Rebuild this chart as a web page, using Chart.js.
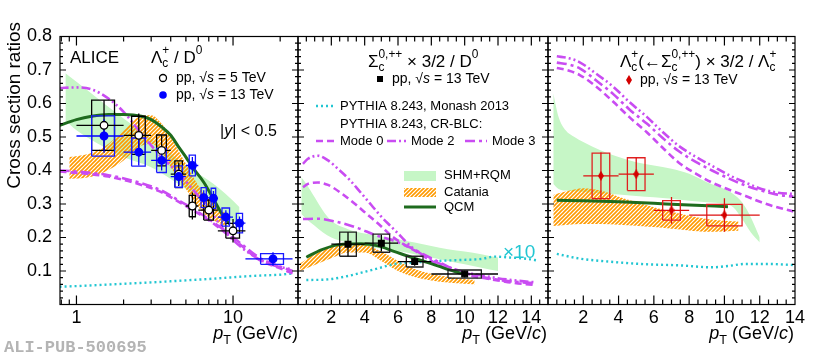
<!DOCTYPE html>
<html>
<head>
<meta charset="utf-8">
<script src="https://cdn.jsdelivr.net/npm/chart.js@4.4.1/dist/chart.umd.min.js"></script>
<style>
  html, body { margin: 0; padding: 0; background: #fff; }
  #wrap { position: relative; width: 830px; height: 359px; overflow: hidden; }
  #wrap canvas { position: absolute; left: 0; top: 0; }
  #tag { position: absolute; left: 4px; top: 338px; line-height: 17px;
         font: bold 17px "Liberation Mono", "DejaVu Sans Mono", monospace; color: #b4b4b4; }
</style>
</head>
<body>
<div id="wrap">
  <canvas id="cLeft" width="830" height="359"></canvas>
  <canvas id="cMid" width="830" height="359"></canvas>
  <canvas id="cRight" width="830" height="359"></canvas>
  <div id="tag">ALI-PUB-500695</div>
</div>
<script>
const FONT = '"Liberation Sans", Arial, Helvetica, sans-serif';

// ---- axes ----
const yLabelTicks = [0.1, 0.2, 0.3, 0.4, 0.5, 0.6, 0.7, 0.8];
const logTicks = [1, 10];
const logMinor = [0.8, 0.9, 2, 3, 4, 5, 6, 7, 8, 9, 20];
const linTicks = [2, 4, 6, 8, 10, 12, 14];

// ---- left panel: Lambda_c+ / D0 ----
const lcPt5 = [1.5, 2.5, 3.5, 4.5, 5.5, 7, 10];
const lcLo5 = [1, 2, 3, 4, 5, 6, 8];
const lcHi5 = [2, 3, 4, 5, 6, 8, 12];
const lcVal5 = [0.535, 0.505, 0.46, 0.389, 0.294, 0.282, 0.22];
const lcStat5 = [0.075, 0.065, 0.045, 0.035, 0.04, 0.03, 0.035];
const lcSyst5 = [0.075, 0.057, 0.046, 0.04, 0.032, 0.03, 0.022];

const lcPt13 = [1.5, 2.5, 3.5, 4.5, 5.5, 6.5, 7.5, 9, 11, 18];
const lcLo13 = [1, 2, 3, 4, 5, 6, 7, 8, 10, 12];
const lcHi13 = [2, 3, 4, 5, 6, 7, 8, 10, 12, 24];
const lcVal13 = [0.503, 0.455, 0.43, 0.382, 0.415, 0.319, 0.317, 0.261, 0.243, 0.136];
const lcStat13 = [0.05, 0.04, 0.03, 0.025, 0.025, 0.022, 0.022, 0.02, 0.02, 0.02];
const lcSyst13 = [0.06, 0.042, 0.036, 0.032, 0.031, 0.03, 0.03, 0.027, 0.029, 0.016];

const shmLcPt = [0.85, 1, 1.5, 2, 3, 4, 5, 6, 7, 8, 10, 11];
const shmLcHi = [0.69, 0.665, 0.6, 0.555, 0.495, 0.45, 0.415, 0.39, 0.37, 0.35, 0.31, 0.29];
const shmLcLo = [0.55, 0.52, 0.47, 0.44, 0.41, 0.375, 0.345, 0.32, 0.3, 0.28, 0.245, 0.23];

const catLcPt = [0.9, 1.2, 1.5, 2, 2.5, 3, 3.5, 4, 5, 6, 7, 8, 9];
const catLcHi = [0.44, 0.45, 0.47, 0.52, 0.56, 0.565, 0.54, 0.5, 0.42, 0.355, 0.315, 0.29, 0.27];
const catLcLo = [0.375, 0.38, 0.395, 0.43, 0.47, 0.48, 0.455, 0.41, 0.345, 0.29, 0.26, 0.245, 0.235];

const qcmLcPt = [0.78, 1, 1.25, 1.6, 2, 2.6, 3, 3.5, 4, 4.5, 5, 5.5, 6.5, 7.5, 8.5, 9.5];
const qcmLcVal = [0.535, 0.552, 0.562, 0.567, 0.567, 0.562, 0.552, 0.53, 0.505, 0.47, 0.44, 0.41, 0.365, 0.315, 0.27, 0.24];

const m2LcPt = [0.78, 1, 1.25, 1.6, 2, 2.5, 3, 3.5, 4.3, 5.5, 7, 9, 11.5, 14.7, 18.8, 24];
const m2LcVal = [0.646, 0.648, 0.642, 0.615, 0.575, 0.52, 0.475, 0.44, 0.4, 0.345, 0.285, 0.215, 0.168, 0.135, 0.115, 0.105];
const m0LcPt = [0.78, 1, 1.6, 2.6, 3.5, 4.3, 5.5, 7, 9, 11.5, 14.7, 18.8, 24];
const m0LcVal = [0.397, 0.393, 0.382, 0.357, 0.335, 0.312, 0.282, 0.252, 0.213, 0.173, 0.133, 0.113, 0.093];
const m3LcVal = [0.4, 0.397, 0.386, 0.362, 0.34, 0.316, 0.287, 0.255, 0.218, 0.178, 0.14, 0.118, 0.1];

const pyLcPt = [0.78, 1, 2, 3, 5, 8, 12, 16, 20, 24];
const pyLcVal = [0.053, 0.055, 0.062, 0.066, 0.072, 0.078, 0.084, 0.087, 0.089, 0.093];

// ---- middle panel: Sigma_c x 3/2 / D0 ----
const scPt = [3, 5, 7, 10];
const scLo = [2, 4, 6, 8];
const scHi = [4, 6, 8, 12];
const scVal = [0.18, 0.183, 0.128, 0.091];
const scStat = [0.036, 0.025, 0.012, 0.01];
const scSyst = [0.036, 0.027, 0.016, 0.012];

const shmScPt = [0.2, 0.5, 1, 1.5, 2, 3, 4, 5, 6, 7, 8, 9, 10, 11, 12];
const shmScHi = [0.38, 0.36, 0.32, 0.28, 0.25, 0.225, 0.212, 0.203, 0.195, 0.185, 0.175, 0.165, 0.158, 0.15, 0.14];
const shmScLo = [0.27, 0.255, 0.235, 0.215, 0.2, 0.185, 0.175, 0.167, 0.16, 0.15, 0.14, 0.13, 0.12, 0.11, 0.1];

const catScPt = [0.1, 1, 2, 3, 4, 5, 6, 7, 8, 9, 10, 10.6];
const catScHi = [0.122, 0.15, 0.172, 0.182, 0.178, 0.158, 0.13, 0.106, 0.092, 0.083, 0.076, 0.073];
const catScLo = [0.1, 0.118, 0.138, 0.155, 0.155, 0.13, 0.1, 0.082, 0.072, 0.066, 0.062, 0.06];

const qcmScPt = [0.5, 1.4, 2.4, 3.8, 4.8, 5.8, 6.8, 7.8, 8.8, 9.8];
const qcmScVal = [0.141, 0.163, 0.178, 0.181, 0.175, 0.158, 0.141, 0.125, 0.108, 0.093];

const m2ScPt = [0.3, 0.6, 1.2, 1.8, 2.4, 3.1, 3.8, 4.4, 5, 5.6, 6.2, 6.8, 7.6, 8.6, 10, 11.8, 13, 14.3];
const m2ScVal = [0.42, 0.435, 0.444, 0.43, 0.405, 0.372, 0.332, 0.297, 0.262, 0.232, 0.202, 0.172, 0.145, 0.12, 0.097, 0.08, 0.072, 0.066];
const m0ScPt = [0.3, 0.6, 1.2, 1.8, 2.6, 3.5, 4.2, 5, 5.6, 6.4, 7.2, 8, 8.8, 10, 11, 12, 13, 14.3];
const m0ScVal = [0.35, 0.36, 0.364, 0.357, 0.332, 0.297, 0.267, 0.233, 0.205, 0.178, 0.155, 0.13, 0.11, 0.09, 0.08, 0.072, 0.064, 0.058];
const m3ScPt = [0.3, 1.2, 2.2, 3.6, 4.6, 5.6, 6.6, 7.6, 8.6, 9.6, 10.8, 11.8, 13, 14.3];
const m3ScVal = [0.255, 0.256, 0.248, 0.228, 0.208, 0.193, 0.173, 0.148, 0.123, 0.1, 0.085, 0.075, 0.068, 0.063];

const pyScPt = [0.5, 1.8, 2.8, 3.8, 4.8, 5.8, 6.8, 7.8, 8.8, 9.8, 11, 11.8, 12.8, 13.8, 14.4];
const pyScVal = [0.073, 0.075, 0.083, 0.095, 0.108, 0.121, 0.125, 0.128, 0.131, 0.133, 0.136, 0.143, 0.14, 0.136, 0.131];

// ---- right panel: Lambda_c(<-Sigma_c) x 3/2 / Lambda_c ----
const frPt = [3, 5, 7, 10];
const frLo = [2, 4, 6, 8];
const frHi = [4, 6, 8, 12];
const frVal = [0.384, 0.389, 0.281, 0.267];
const frStat = [0.07, 0.049, 0.04, 0.05];
const frSyst = [0.068, 0.049, 0.029, 0.032];

const shmFrPt = [0.3, 0.6, 1, 1.5, 2, 3, 4, 5, 6, 7, 8, 9, 10, 10.5, 11, 11.5, 12];
const shmFrHi = [0.63, 0.56, 0.52, 0.5, 0.485, 0.46, 0.44, 0.425, 0.415, 0.405, 0.39, 0.365, 0.345, 0.33, 0.305, 0.26, 0.2];
const shmFrLo = [0.36, 0.345, 0.34, 0.338, 0.336, 0.332, 0.328, 0.324, 0.32, 0.316, 0.31, 0.305, 0.3, 0.29, 0.255, 0.215, 0.185];

const catFrPt = [0.3, 1, 2, 3, 4, 5, 6, 7, 8, 9, 10, 10.8];
const catFrHi = [0.327, 0.337, 0.347, 0.34, 0.322, 0.306, 0.29, 0.277, 0.265, 0.255, 0.25, 0.248];
const catFrLo = [0.234, 0.237, 0.24, 0.24, 0.238, 0.235, 0.231, 0.226, 0.221, 0.217, 0.218, 0.22];

const qcmFrPt = [0.5, 2, 4, 6, 8, 10.2];
const qcmFrVal = [0.311, 0.31, 0.307, 0.302, 0.297, 0.292];

const mFrPt = [0.5, 1.2, 1.8, 2.7, 3.7, 4.6, 5.6, 6.5, 7.4, 8.4, 9.3, 10.3, 11.2, 12.1, 13, 13.9];
const m2FrVal = [0.741, 0.735, 0.723, 0.69, 0.65, 0.605, 0.56, 0.515, 0.474, 0.44, 0.414, 0.385, 0.364, 0.345, 0.334, 0.33];
const m3FrVal = [0.722, 0.716, 0.705, 0.67, 0.628, 0.583, 0.54, 0.497, 0.458, 0.425, 0.4, 0.375, 0.355, 0.34, 0.328, 0.322];
const m0FrVal = [0.706, 0.698, 0.685, 0.652, 0.605, 0.56, 0.514, 0.468, 0.424, 0.39, 0.364, 0.342, 0.324, 0.305, 0.29, 0.278];

const pyFrPt = [0.5, 1.8, 3.7, 5.6, 7.4, 9.3, 10.2, 11.2, 12.5, 13.9];
const pyFrVal = [0.151, 0.137, 0.127, 0.12, 0.117, 0.111, 0.115, 0.121, 0.121, 0.118];

// ---- styles ----
const GREEN_FILL = '#c6f6c6';
const QCM_COL = '#1e6b1e';
const MAG = '#c94cf2';
const CYAN = '#22c6d2';
const ORANGE = '#ff9a00';
const DASH0 = [7, 4];
const DASH2 = [9, 3, 2, 3, 2, 3];
const DASH3 = [10, 4, 3, 4];
const DOT = [2, 3];

Chart.defaults.font.family = FONT;
Chart.defaults.color = '#000';

function steps(a, b, d) {
  const out = [];
  for (let v = a; v <= b + 1e-9; v += d) out.push(+v.toFixed(4));
  return out;
}

function hatch(color) {
  const c = document.createElement('canvas');
  c.width = 4; c.height = 4;
  const g = c.getContext('2d');
  g.strokeStyle = color;
  g.lineWidth = 1.6;
  g.beginPath();
  g.moveTo(-1, 5); g.lineTo(5, -1);
  g.moveTo(-1, 1); g.lineTo(1, -1);
  g.moveTo(3, 5); g.lineTo(5, 3);
  g.stroke();
  return g.createPattern(c, 'repeat');
}

function thinDiamond(color, w, h) {
  const c = document.createElement('canvas');
  c.width = w; c.height = h;
  const g = c.getContext('2d');
  g.fillStyle = color;
  g.beginPath();
  g.moveTo(w / 2, 0); g.lineTo(w, h / 2); g.lineTo(w / 2, h); g.lineTo(0, h / 2);
  g.closePath();
  g.fill();
  return c;
}

const ORANGE_HATCH = hatch(ORANGE);
const RED_DIAMOND = thinDiamond('#d40000', 6, 10);

const pts = (xs, ys) => xs.map((x, i) => ({ x, y: ys[i] }));

function bandSets(xs, hi, lo, fill, order) {
  return [
    { data: pts(xs, hi), fill: '+1', backgroundColor: fill, borderColor: 'rgba(0,0,0,0)',
      borderWidth: 0, pointRadius: 0, order, cubicInterpolationMode: 'monotone' },
    { data: pts(xs, lo), fill: false, borderColor: 'rgba(0,0,0,0)',
      borderWidth: 0, pointRadius: 0, order, cubicInterpolationMode: 'monotone' },
  ];
}

function curve(xs, ys, color, width, dash, order) {
  return { data: pts(xs, ys), borderColor: color, borderWidth: width, borderDash: dash,
    borderCapStyle: 'butt', pointRadius: 0, fill: false, order, cubicInterpolationMode: 'monotone' };
}

// systematic boxes, width = bin width / 2
function boxSet(xs, lo, hi, ys, syst, color, order) {
  const d = [];
  xs.forEach((x, i) => {
    const hw = (hi[i] - lo[i]) / 4;
    const y0 = ys[i] - syst[i], y1 = ys[i] + syst[i];
    d.push({ x: x - hw, y: y0 }, { x: x + hw, y: y0 }, { x: x + hw, y: y1 },
           { x: x - hw, y: y1 }, { x: x - hw, y: y0 }, { x, y: null });
  });
  return { data: d, borderColor: color, borderWidth: 1.3, pointRadius: 0, fill: false,
    spanGaps: false, borderJoinStyle: 'miter', order };
}

// stat error bars + bin width
function barSet(xs, lo, hi, ys, stat, color, order) {
  const d = [];
  xs.forEach((x, i) => {
    d.push({ x: lo[i], y: ys[i] }, { x: hi[i], y: ys[i] }, { x, y: null },
           { x, y: ys[i] - stat[i] }, { x, y: ys[i] + stat[i] }, { x, y: null });
  });
  return { data: d, borderColor: color, borderWidth: 1.3, pointRadius: 0, fill: false,
    spanGaps: false, order };
}

function markerSet(xs, ys, style) {
  return Object.assign({ data: pts(xs, ys), showLine: false, order: 0, pointBorderWidth: 1.3 }, style);
}

// ---- rich text (sub/superscripts, italics) ----
function tokWidth(ctx, p, size) {
  if (typeof p === 'string') { ctx.font = `${size}px ${FONT}`; return ctx.measureText(p).width; }
  if (p.i) { ctx.font = `italic ${size}px ${FONT}`; return ctx.measureText(p.i).width; }
  ctx.font = `${size * 0.7}px ${FONT}`;
  return Math.max(p.sub ? ctx.measureText(p.sub).width : 0, p.sup ? ctx.measureText(p.sup).width : 0);
}

function rich(ctx, parts, x, y, size, color, align) {
  ctx.save();
  ctx.fillStyle = color || '#000';
  ctx.textBaseline = 'middle';
  ctx.textAlign = 'left';
  let cx = x;
  if (align === 'right') cx -= parts.reduce((s, p) => s + tokWidth(ctx, p, size), 0);
  parts.forEach(p => {
    const w = tokWidth(ctx, p, size);
    if (typeof p === 'string') ctx.fillText(p, cx, y);
    else if (p.i) ctx.fillText(p.i, cx, y);
    else {
      if (p.sup) ctx.fillText(p.sup, cx, y - size * 0.4);
      if (p.sub) ctx.fillText(p.sub, cx, y + size * 0.35);
    }
    cx += w;
  });
  ctx.restore();
}

function sampleLine(ctx, x0, x1, y, color, width, dash) {
  ctx.save();
  ctx.strokeStyle = color; ctx.lineWidth = width; ctx.setLineDash(dash);
  ctx.beginPath(); ctx.moveTo(x0, y); ctx.lineTo(x1, y); ctx.stroke();
  ctx.restore();
}

// ---- frame with inward ticks on all four sides ----
function framePlugin(xMajor, xMinor, yMajor, yMinor) {
  return {
    id: 'frame',
    afterDraw(chart) {
      const { ctx, chartArea: a } = chart;
      const { x, y } = chart.scales;
      ctx.save();
      ctx.strokeStyle = '#000';
      ctx.lineWidth = 1.2;
      ctx.strokeRect(a.left, a.top, a.right - a.left, a.bottom - a.top);
      ctx.beginPath();
      const xt = (vals, len) => vals.forEach(v => {
        const px = x.getPixelForValue(v);
        if (px <= a.left + 1 || px >= a.right - 1) return;
        ctx.moveTo(px, a.bottom); ctx.lineTo(px, a.bottom - len);
        ctx.moveTo(px, a.top); ctx.lineTo(px, a.top + len);
      });
      const yt = (vals, len) => vals.forEach(v => {
        const py = y.getPixelForValue(v);
        if (py <= a.top + 1 || py >= a.bottom - 1) return;
        ctx.moveTo(a.left, py); ctx.lineTo(a.left + len, py);
        ctx.moveTo(a.right, py); ctx.lineTo(a.right - len, py);
      });
      xt(xMajor, 9); xt(xMinor, 5);
      yt(yMajor, 6); yt(yMinor, 3);
      ctx.stroke();
      ctx.restore();
    },
  };
}

const textPlugin = draw => ({ id: 'texts', afterDraw(chart) { draw(chart.ctx, chart); } });

function xScale(type, min, max, ticks) {
  return {
    type, min, max,
    grid: { display: false, drawTicks: false }, border: { display: false },
    ticks: { autoSkip: false, maxRotation: 0, padding: 3, font: { size: 18 }, color: '#000',
      callback: v => String(v) },
    afterBuildTicks: s => { s.ticks = ticks.map(v => ({ value: v })); },
    afterFit: s => { s.height = 54.5; s.paddingLeft = 0; s.paddingRight = 0; },
  };
}

function yScale(showLabels) {
  return {
    type: 'linear', min: 0, max: 0.8,
    grid: { display: false, drawTicks: false }, border: { display: false },
    ticks: { display: showLabels, padding: 8, font: { size: 18 }, color: '#000',
      callback: v => v.toFixed(1) },
    afterBuildTicks: s => { s.ticks = yLabelTicks.map(v => ({ value: v })); },
    afterFit: s => { s.width = showLabels ? 60 : 0; s.paddingTop = 0; s.paddingBottom = 0; },
  };
}

function makeChart(id, padding, x, y, datasets, frame, draw) {
  return new Chart(document.getElementById(id), {
    type: 'line',
    data: { datasets },
    options: {
      responsive: false, animation: false, devicePixelRatio: 1, events: [],
      layout: { padding },
      plugins: { legend: { display: false }, tooltip: { enabled: false } },
      scales: { x, y },
    },
    plugins: [framePlugin(...frame), textPlugin(draw)],
  });
}

const yMinor = steps(0, 0.8, 0.02);
const linMinor = steps(0, 15, 0.5);
const ppText = e => ['pp, √', { i: 's' }, ` = ${e} TeV`];
const ptTitle = [{ i: 'p' }, { sub: 'T' }, ' (GeV/', { i: 'c' }, ')'];

// ---- left panel ----
makeChart('cLeft', { left: 0, right: 532, top: 36.5, bottom: 0 },
  xScale('logarithmic', 0.785, 26, logTicks), yScale(true),
  [
    markerSet(lcPt13, lcVal13, { pointStyle: 'circle', pointRadius: 3.8,
      pointBackgroundColor: '#0000ff', pointBorderColor: '#0000ff' }),
    markerSet(lcPt5, lcVal5, { pointStyle: 'circle', pointRadius: 3.8,
      pointBackgroundColor: '#fff', pointBorderColor: '#000' }),
    barSet(lcPt13, lcLo13, lcHi13, lcVal13, lcStat13, '#0000ff', 1),
    barSet(lcPt5, lcLo5, lcHi5, lcVal5, lcStat5, '#000', 1),
    boxSet(lcPt13, lcLo13, lcHi13, lcVal13, lcSyst13, '#1a1aff', 2),
    boxSet(lcPt5, lcLo5, lcHi5, lcVal5, lcSyst5, '#000', 2),
    curve(qcmLcPt, qcmLcVal, QCM_COL, 3, [], 3),
    curve(m2LcPt, m2LcVal, MAG, 2.6, DASH2, 4),
    curve(m0LcPt, m0LcVal, MAG, 2.6, DASH0, 4),
    curve(m0LcPt, m3LcVal, MAG, 2.6, DASH3, 4),
    curve(pyLcPt, pyLcVal, CYAN, 2.4, DOT, 4),
    ...bandSets(catLcPt, catLcHi, catLcLo, ORANGE_HATCH, 5),
    ...bandSets(shmLcPt, shmLcHi, shmLcLo, GREEN_FILL, 6),
  ],
  [logTicks, logMinor, yLabelTicks, yMinor],
  ctx => {
    ctx.save();
    ctx.translate(15, 22);
    ctx.rotate(-Math.PI / 2);
    ctx.font = `19px ${FONT}`;
    ctx.textAlign = 'right';
    ctx.textBaseline = 'middle';
    ctx.fillStyle = '#000';
    ctx.fillText('Cross section ratios', 0, 0);
    ctx.restore();

    rich(ctx, ['ALICE'], 70, 58, 17);
    rich(ctx, ['Λ', { sub: 'c', sup: '+' }, ' / D', { sup: '0' }], 151, 58, 17);
    ctx.save();
    ctx.lineWidth = 1.3;
    ctx.strokeStyle = '#000';
    ctx.beginPath(); ctx.arc(163, 78, 3.5, 0, Math.PI * 2); ctx.stroke();
    ctx.fillStyle = '#0000ff';
    ctx.beginPath(); ctx.arc(163, 95, 3.8, 0, Math.PI * 2); ctx.fill();
    ctx.restore();
    rich(ctx, ppText(5), 176, 78, 14);
    rich(ctx, ppText(13), 176, 95, 14);
    rich(ctx, ['|', { i: 'y' }, '| < 0.5'], 220, 132, 16);
    rich(ctx, ptTitle, 298, 334, 18, '#000', 'right');
  });

// ---- middle panel ----
makeChart('cMid', { left: 298, right: 282, top: 36.5, bottom: 0 },
  xScale('linear', 0, 15, linTicks), yScale(false),
  [
    markerSet(scPt, scVal, { pointStyle: 'rect', pointRadius: 4,
      pointBackgroundColor: '#000', pointBorderColor: '#000' }),
    barSet(scPt, scLo, scHi, scVal, scStat, '#000', 1),
    boxSet(scPt, scLo, scHi, scVal, scSyst, '#222', 2),
    curve(qcmScPt, qcmScVal, QCM_COL, 3, [], 3),
    curve(m2ScPt, m2ScVal, MAG, 2.6, DASH2, 4),
    curve(m0ScPt, m0ScVal, MAG, 2.6, DASH0, 4),
    curve(m3ScPt, m3ScVal, MAG, 2.6, DASH3, 4),
    curve(pyScPt, pyScVal, CYAN, 2.4, DOT, 4),
    ...bandSets(catScPt, catScHi, catScLo, ORANGE_HATCH, 5),
    ...bandSets(shmScPt, shmScHi, shmScLo, GREEN_FILL, 6),
  ],
  [linTicks, linMinor, yLabelTicks, yMinor],
  ctx => {
    rich(ctx, ['Σ', { sub: 'c', sup: '0,++' }, ' × 3/2 / D', { sup: '0' }], 368, 62, 17);
    ctx.fillStyle = '#000';
    ctx.fillRect(377, 76, 6, 6);
    rich(ctx, ppText(13), 392, 79, 14);
    sampleLine(ctx, 316, 336, 106, CYAN, 2.4, DOT);
    rich(ctx, ['PYTHIA 8.243, Monash 2013'], 340, 106, 13);
    rich(ctx, ['PYTHIA 8.243, CR-BLC:'], 340, 124, 13);
    sampleLine(ctx, 316, 336, 141, MAG, 2.6, DASH0);
    rich(ctx, ['Mode 0'], 340, 141, 13);
    sampleLine(ctx, 387, 407, 141, MAG, 2.6, DASH2);
    rich(ctx, ['Mode 2'], 411, 141, 13);
    sampleLine(ctx, 465, 487, 141, MAG, 2.6, DASH3);
    rich(ctx, ['Mode 3'], 492, 141, 13);
    ctx.fillStyle = GREEN_FILL;
    ctx.fillRect(404, 171, 32, 10);
    ctx.fillStyle = ORANGE_HATCH;
    ctx.fillRect(404, 188, 32, 9);
    sampleLine(ctx, 404, 436, 207, QCM_COL, 3, []);
    rich(ctx, ['SHM+RQM'], 444, 175, 13);
    rich(ctx, ['Catania'], 444, 192, 13);
    rich(ctx, ['QCM'], 444, 207, 13);
    rich(ctx, ['×10'], 503, 253, 19, CYAN);
    rich(ctx, ptTitle, 547, 334, 18, '#000', 'right');
  });

// ---- right panel ----
makeChart('cRight', { left: 548, right: 35, top: 36.5, bottom: 0 },
  xScale('linear', 0, 14, linTicks), yScale(false),
  [
    markerSet(frPt, frVal, { pointStyle: RED_DIAMOND }),
    barSet(frPt, frLo, frHi, frVal, frStat, '#dd1111', 1),
    boxSet(frPt, frLo, frHi, frVal, frSyst, '#e02020', 2),
    curve(qcmFrPt, qcmFrVal, QCM_COL, 3, [], 3),
    curve(mFrPt, m2FrVal, MAG, 2.6, DASH2, 4),
    curve(mFrPt, m3FrVal, MAG, 2.6, DASH3, 4),
    curve(mFrPt, m0FrVal, MAG, 2.6, DASH0, 4),
    curve(pyFrPt, pyFrVal, CYAN, 2.4, DOT, 4),
    ...bandSets(catFrPt, catFrHi, catFrLo, ORANGE_HATCH, 5),
    ...bandSets(shmFrPt, shmFrHi, shmFrLo, GREEN_FILL, 6),
  ],
  [linTicks, linMinor, yLabelTicks, yMinor],
  ctx => {
    rich(ctx, ['Λ', { sub: 'c', sup: '+' }, '(←Σ', { sub: 'c', sup: '0,++' }, ') × 3/2 / Λ',
      { sub: 'c', sup: '+' }], 620, 62, 17);
    ctx.drawImage(RED_DIAMOND, 626, 75);
    rich(ctx, ppText(13), 640, 80, 14);
    rich(ctx, ptTitle, 794, 334, 18, '#000', 'right');
  });
</script>
</body>
</html>
